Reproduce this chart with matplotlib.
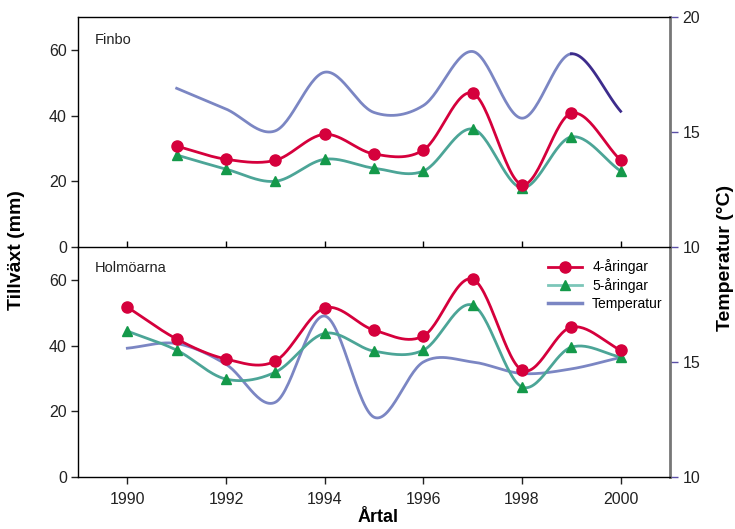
import numpy as np
import matplotlib
matplotlib.use("Agg")
import matplotlib.pyplot as plt
from matplotlib.lines import Line2D

plt.rcParams['font.family'] = ['Liberation Sans Narrow', 'Liberation Sans', 'DejaVu Sans']

# ---- data ----
years_finbo = [1991, 1992, 1993, 1994, 1995, 1996, 1997, 1998, 1999, 2000]
finbo_4 = [30.7, 26.7, 26.4, 34.3, 28.3, 29.5, 46.8, 19.0, 40.7, 26.4]
finbo_5 = [28.0, 23.7, 20.0, 26.7, 24.0, 23.1, 35.9, 18.0, 33.5, 23.1]
finbo_temp = [16.9, 16.0, 15.05, 17.6, 15.85, 16.15, 18.5, 15.6, 18.4, 15.9]

years_holm = [1990, 1991, 1992, 1993, 1994, 1995, 1996, 1997, 1998, 1999, 2000]
holm_4 = [51.7, 42.0, 35.9, 35.3, 51.4, 44.7, 42.9, 60.2, 32.5, 45.6, 38.6]
holm_5 = [44.4, 38.6, 29.8, 31.9, 43.7, 38.3, 38.6, 52.3, 27.4, 39.5, 36.5]
holm_temp = [15.6, 15.8, 14.9, 13.25, 17.0, 12.6, 15.0, 15.0, 14.5, 14.7, 15.2]

xticks = [1990, 1992, 1994, 1996, 1998, 2000]
yticks = [0, 20, 40, 60]
panel_names = ["Finbo", "Holmöarna"]

RED = "#D5003C"
TEAL = "#4CA597"
GREEN = "#14994A"
TEMP = "#7B86C3"
TEMP_DARK = "#3D2C8C"
TICKPURPLE = "#5B4FA6"


def smooth(x, y, n=30):
    """Catmull-Rom smoothing through the given points."""
    x = np.asarray(x, float)
    y = np.asarray(y, float)
    m = np.zeros_like(y)
    m[1:-1] = (y[2:] - y[:-2]) / (x[2:] - x[:-2])
    m[0] = (y[1] - y[0]) / (x[1] - x[0])
    m[-1] = (y[-1] - y[-2]) / (x[-1] - x[-2])
    xs, ys = [], []
    for i in range(len(x) - 1):
        h = x[i + 1] - x[i]
        t = np.linspace(0, 1, n, endpoint=(i == len(x) - 2))
        h00 = 2 * t**3 - 3 * t**2 + 1
        h10 = t**3 - 2 * t**2 + t
        h01 = -2 * t**3 + 3 * t**2
        h11 = t**3 - t**2
        xs.append(x[i] + t * h)
        ys.append(h00 * y[i] + h10 * h * m[i] + h01 * y[i + 1] + h11 * h * m[i + 1])
    return np.concatenate(xs), np.concatenate(ys)


fig = plt.figure(figsize=(7.35, 5.29), dpi=100)
L, W = 78 / 735, 592 / 735
H = 230 / 529
ax_top = fig.add_axes([L, 1 - 247 / 529, W, H])
ax_bot = fig.add_axes([L, 1 - 477 / 529, W, H])

datasets = [
    (ax_top, years_finbo, finbo_4, finbo_5, finbo_temp),
    (ax_bot, years_holm, holm_4, holm_5, holm_temp),
]

for k, (ax, yrs, s4, s5, tmp) in enumerate(datasets):
    ax.set_xlim(1989, 2001)
    ax.set_ylim(0, 70)
    ax.set_yticks(yticks)
    ax.set_xticks(xticks)
    ax.tick_params(axis='y', direction='out', length=5, width=1, labelsize=11.5,
                   colors='#222222', pad=3)
    ax.spines['right'].set_visible(False)
    for s in ['left', 'bottom', 'top']:
        ax.spines[s].set_linewidth(1.0)

    tw = ax.twinx()
    tw.set_ylim(10, 20)
    tw.set_xlim(1989, 2001)
    tw.spines['right'].set_color('#777777')
    tw.spines['right'].set_linewidth(2.0)
    for s in ['left', 'top', 'bottom']:
        tw.spines[s].set_visible(False)
    tw.set_yticks([10, 15, 20] if k == 0 else [10, 15])
    tw.tick_params(axis='y', direction='out', length=6, width=1, color=TICKPURPLE,
                   labelcolor='#222222', labelsize=11.5, pad=3)

    xt, yt = smooth(yrs, tmp)
    if k == 0:
        cut = xt >= 1999
        tw.plot(xt[~cut | (xt == 1999)], yt[~cut | (xt == 1999)], color=TEMP, lw=2, zorder=2)
        tw.plot(xt[cut], yt[cut], color=TEMP_DARK, lw=2, zorder=2)
    else:
        tw.plot(xt, yt, color=TEMP, lw=2, zorder=2)

    x4, y4 = smooth(yrs, s4)
    x5, y5 = smooth(yrs, s5)
    ax.set_zorder(tw.get_zorder() + 1)
    ax.patch.set_visible(False)
    ax.plot(x5, y5, color=TEAL, lw=2, zorder=3)
    ax.plot(yrs, s5, linestyle='none', marker='^', color=GREEN, ms=7, zorder=4)
    ax.plot(x4, y4, color=RED, lw=2, zorder=5)
    ax.plot(yrs, s4, linestyle='none', marker='o', color=RED, ms=8, zorder=6)

    ax.text(0.029, 0.90 if k == 0 else 0.909, panel_names[k], transform=ax.transAxes,
            fontsize=10.5, color='#222222', va='center', ha='left')

# top panel x ticks: inward, no labels
ax_top.tick_params(axis='x', direction='in', length=4, width=1, labelbottom=False)
ax_bot.tick_params(axis='x', direction='out', length=5, width=1, labelsize=11.5,
                   colors='#222222', pad=6)
ax_bot.spines['top'].set_visible(False)

# legend
handles = [
    Line2D([], [], color=RED, lw=2, marker='o', ms=8),
    Line2D([], [], color='#7CC6B9', lw=2, marker='^', ms=7, markerfacecolor=GREEN,
           markeredgecolor=GREEN),
    Line2D([], [], color=TEMP, lw=2.5),
]
ax_bot.legend(handles, ["4-åringar", "5-åringar", "Temperatur"], loc='upper left',
              bbox_to_anchor=(0.773, 1.0), frameon=False, fontsize=10,
              handlelength=2.45, handletextpad=0.72, labelspacing=0.28)

fig.text(17 / 735, 1 - 250 / 529, "Tillväxt (mm)", rotation=90, ha='center', va='center',
         fontsize=14, fontweight='bold')
fig.text(725 / 735, 1 - 258 / 529, "Temperatur (°C)", rotation=90, ha='center', va='center',
         fontsize=14, fontweight='bold')
fig.text(378 / 735, 1 - 518 / 529, "Årtal", ha='center', va='center',
         fontsize=13, fontweight='bold')

fig.savefig("out.png", dpi=100)
